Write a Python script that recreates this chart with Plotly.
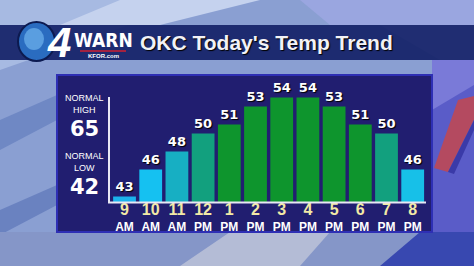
import plotly.graph_objects as go

hours = ["9", "10", "11", "12", "1", "2", "3", "4", "5", "6", "7", "8"]
periods = ["AM", "AM", "AM", "PM", "PM", "PM", "PM", "PM", "PM", "PM", "PM", "PM"]
temps = [43, 46, 48, 50, 51, 53, 54, 54, 53, 51, 50, 46]
bar_colors = ["#1bb3ec", "#15c1f1", "#17afc3", "#12a07e", "#0e952d", "#0e952d",
              "#0e952d", "#0e952d", "#0e952d", "#0e952d", "#12a07e", "#17c0e8"]
normal_high = 65
normal_low = 42

W, H = 474, 266
def px(x): return x / W
def py(y): return 1 - y / H

x_pos = list(range(len(hours)))
ticktext = [f"<span style='color:#f2e9a6;font-size:16px'>{h}</span><br>{p}" for h, p in zip(hours, periods)]

fig = go.Figure()
fig.add_trace(go.Bar(
    x=x_pos, y=temps,
    marker=dict(color=bar_colors, line=dict(width=0)),
    width=0.87,
    text=[str(t) for t in temps], textposition="outside", cliponaxis=False,
    textfont=dict(family="DejaVu Sans", size=13, color="white", weight="bold",
                  shadow="1px 1px 1px #000"),
))

shapes = []
def rect(x0, y0, x1, y1, color, line=None, layer="below"):
    shapes.append(dict(type="rect", xref="paper", yref="paper", x0=px(x0), x1=px(x1),
                       y0=py(y1), y1=py(y0), fillcolor=color,
                       line=line or dict(width=0), layer=layer))
def poly(pts, color, layer="below"):
    d = "M " + " L ".join(f"{px(x)},{py(y)}" for x, y in pts) + " Z"
    shapes.append(dict(type="path", xref="paper", yref="paper", path=d, fillcolor=color,
                       line=dict(width=0), layer=layer))

# background
rect(0, 0, W, H, "#8a9fd2")
poly([(0, 0), (200, 0), (0, 70)], "#a7bae2")
poly([(120, 0), (260, 0), (160, 25), (60, 25)], "#c5d2ee")
poly([(300, 0), (474, 0), (474, 25), (330, 25)], "#9aa6e0")
poly([(380, 25), (474, 25), (474, 60), (440, 60)], "#b8b8e8")
poly([(432, 60), (474, 60), (474, 232), (432, 232)], "#5a5cc8")
poly([(432, 60), (474, 60), (474, 85), (432, 110)], "#7a7ad8")
poly([(434, 168), (458, 100), (474, 96), (474, 120), (448, 172)], "#b44a60")
poly([(448, 172), (474, 120), (474, 130), (454, 174)], "#3a3aa8")
poly([(0, 120), (57, 95), (57, 120), (0, 150)], "#6f88c4")
poly([(0, 210), (57, 185), (57, 205), (0, 235)], "#6a82c0")
poly([(0, 232), (474, 232), (474, 266), (0, 266)], "#8596c8")
poly([(180, 266), (230, 232), (330, 232), (300, 266)], "#b4bcd6")
poly([(380, 266), (420, 232), (474, 232), (474, 266)], "#3848b0")
# title band
rect(0, 25, W, 60, "rgba(20,34,104,0.93)")
# panel
rect(57, 75, 432, 232, "#211e70", line=dict(color="#2e2fb4", width=2))
# axis lines
shapes.append(dict(type="line", xref="paper", yref="paper", x0=px(109), x1=px(109),
                   y0=py(203), y1=py(97), line=dict(color="#e8e8f4", width=2), layer="above"))
shapes.append(dict(type="line", xref="paper", yref="paper", x0=px(108), x1=px(426),
                   y0=py(202.5), y1=py(202.5), line=dict(color="#e8e8f4", width=2), layer="above"))
# logo globe
shapes.append(dict(type="circle", xref="paper", yref="paper", x0=px(18), x1=px(55),
                   y0=py(61), y1=py(22), fillcolor="#2a6cc0",
                   line=dict(color="#0c1a50", width=2), layer="above"))
shapes.append(dict(type="circle", xref="paper", yref="paper", x0=px(24), x1=px(44),
                   y0=py(50), y1=py(28), fillcolor="#5a9ee0", line=dict(width=0), layer="above"))
shapes.append(dict(type="line", xref="paper", yref="paper", x0=px(80), x1=px(126),
                   y0=py(51), y1=py(51), line=dict(color="#d02030", width=1.5), layer="above"))

ann = []
def text(x, y, s, size, color="white", bold=True, family="Liberation Sans", xanchor="center",
         yanchor="middle", **kw):
    ann.append(dict(x=px(x), y=py(y), xref="paper", yref="paper", text=s, showarrow=False,
                    xanchor=xanchor, yanchor=yanchor, borderpad=0,
                    font=dict(family=family, size=size, color=color,
                              weight="bold" if bold else "normal", **kw)))

text(59, 42, "<i>4</i>", 42, family="Liberation Sans")
text(103, 40, "WARN", 19, family="DejaVu Sans Condensed")
text(103, 56, "KFOR.com", 6)
text(266, 42, "OKC Today's Temp Trend", 21, color="#f2f2f6", shadow="1px 1px 1px #000")
text(84, 116, "NORMAL<br>HIGH", 9, bold=False, yanchor="bottom")
text(84, 116, str(normal_high), 21, family="DejaVu Sans", yanchor="top")
text(84, 174, "NORMAL<br>LOW", 9, bold=False, yanchor="bottom")
text(84, 174, str(normal_low), 21, family="DejaVu Sans", yanchor="top")

y_base = 42.4
k = 9.0
fig.update_layout(
    width=W, height=H, margin=dict(l=0, r=0, t=0, b=0),
    paper_bgcolor="#8a9fd2", plot_bgcolor="rgba(0,0,0,0)",
    showlegend=False, shapes=shapes, annotations=ann,
    xaxis=dict(domain=[px(108.8), px(425.8)], range=[-0.6, 11.5],
               tickmode="array", tickvals=x_pos, ticktext=ticktext,
               tickfont=dict(family="Liberation Sans", size=12, color="white", weight="bold"),
               showgrid=False, zeroline=False, showline=False, ticks="", ticklabelstandoff=0),
    yaxis=dict(domain=[py(202), py(88)], range=[y_base, y_base + (202 - 88) / k],
               showgrid=False, zeroline=False, showticklabels=False, showline=False),
    bargap=0.1,
)
fig.write_html("out.html")
